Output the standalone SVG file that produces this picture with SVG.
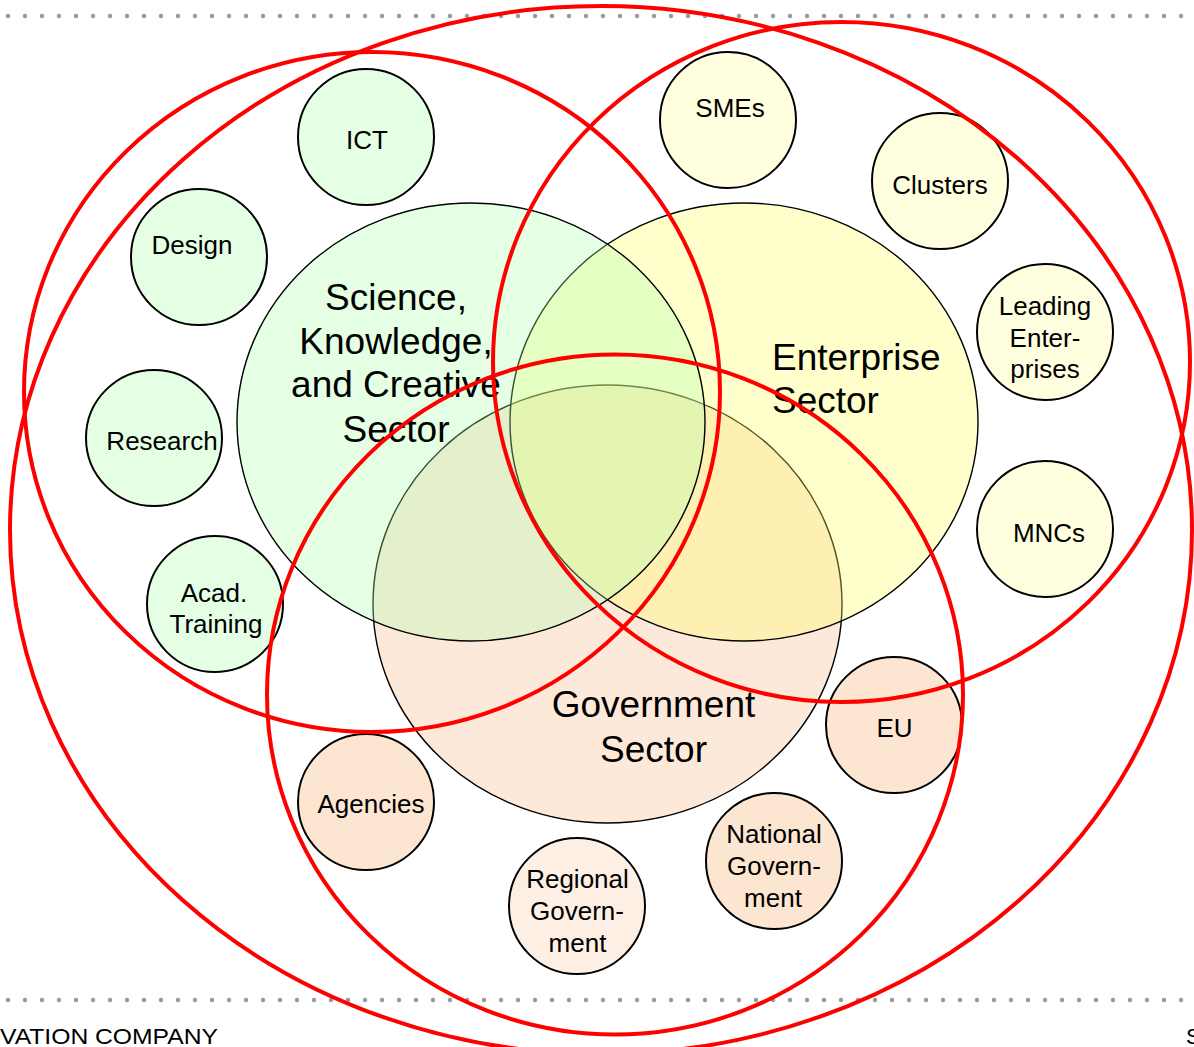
<svg xmlns="http://www.w3.org/2000/svg" width="1194" height="1047" viewBox="0 0 1194 1047">
<style>
text{font-family:"Liberation Sans",Arial,sans-serif;fill:#000;text-anchor:middle}
.big{font-size:37px}
.sm{font-size:26px}
.sector{stroke:#000;stroke-width:1.4;fill-opacity:0.32}
.node{stroke:#000;stroke-width:2}
.g{fill:#E5FFE5}
.y{fill:#FFFFE0}
.p{fill:#FCE5D1}
.red{fill:none;stroke:#FF0000;stroke-width:4}
.dots{stroke:#9A9A9A;stroke-width:4.5;stroke-linecap:round;stroke-dasharray:0 17}
</style>
<rect width="1194" height="1047" fill="#fff"/>
<line class="dots" x1="8" y1="16" x2="1194" y2="16"/>
<line class="dots" x1="8" y1="1000" x2="1194" y2="1000"/>
<text x="0" y="1044" style="font-size:22px;text-anchor:start" textLength="218" lengthAdjust="spacingAndGlyphs">VATION COMPANY</text>
<text x="1186" y="1044" style="font-size:22px;text-anchor:start">S</text>

<g id="government-sector">
<ellipse class="sector" cx="607.5" cy="604" rx="234.5" ry="219" fill="#F9BA88"/>
</g>
<g id="enterprise-sector">
<ellipse class="sector" cx="744" cy="422" rx="234" ry="219" fill="#FFFF60"/>
</g>
<g id="science-sector">
<ellipse class="sector" cx="471" cy="422" rx="234" ry="219" fill="#AEFFAE"/>
</g>
<g id="labels-sectors">
<text class="big" x="396" y="310">Science,</text>
<text class="big" x="396" y="354">Knowledge,</text>
<text class="big" x="396" y="397">and Creative</text>
<text class="big" x="396" y="442">Sector</text>
<text class="big" x="772" y="370" style="text-anchor:start">Enterprise</text>
<text class="big" x="772" y="413" style="text-anchor:start">Sector</text>
<text class="big" x="653.5" y="717">Government</text>
<text class="big" x="653.5" y="762">Sector</text>
</g>

<g id="ict"><circle class="node g" cx="366" cy="137" r="68"/><text class="sm" x="367" y="149">ICT</text></g>
<g id="design"><circle class="node g" cx="199" cy="257" r="68"/><text class="sm" x="192" y="254">Design</text></g>
<g id="research"><circle class="node g" cx="154" cy="438" r="68"/><text class="sm" x="162" y="450">Research</text></g>
<g id="acad-training"><circle class="node g" cx="215" cy="604" r="68"/><text class="sm" x="214" y="602">Acad.</text><text class="sm" x="216" y="633">Training</text></g>

<g id="smes"><circle class="node y" cx="728" cy="120" r="68"/><text class="sm" x="730" y="117">SMEs</text></g>
<g id="clusters"><circle class="node y" cx="940" cy="181" r="68"/><text class="sm" x="940" y="194">Clusters</text></g>
<g id="leading-enterprises"><circle class="node y" cx="1045" cy="332" r="68"/><text class="sm" x="1045" y="315">Leading</text><text class="sm" x="1045" y="347">Enter-</text><text class="sm" x="1045" y="378">prises</text></g>
<g id="mncs"><circle class="node y" cx="1045" cy="529" r="68"/><text class="sm" x="1049" y="542">MNCs</text></g>

<g id="eu"><circle class="node p" cx="894" cy="725" r="68"/><text class="sm" x="894.5" y="737">EU</text></g>
<g id="national-government"><circle class="node p" cx="774" cy="861" r="68"/><text class="sm" x="774" y="843">National</text><text class="sm" x="774" y="875">Govern-</text><text class="sm" x="773" y="907">ment</text></g>
<g id="regional-government"><circle class="node" cx="577" cy="906" r="68" fill="#FDEFE4"/><text class="sm" x="577.5" y="888">Regional</text><text class="sm" x="577" y="920">Govern-</text><text class="sm" x="577.5" y="952">ment</text></g>
<g id="agencies"><circle class="node p" cx="366" cy="802" r="68"/><text class="sm" x="371" y="813">Agencies</text></g>

<g id="connectors">
<ellipse class="red" cx="372" cy="392" rx="348" ry="340"/>
<ellipse class="red" cx="841.5" cy="362" rx="348.5" ry="340"/>
<ellipse class="red" cx="615" cy="694.5" rx="348" ry="340"/>
<ellipse class="red" cx="601" cy="530" rx="591" ry="524"/>
</g>
</svg>
